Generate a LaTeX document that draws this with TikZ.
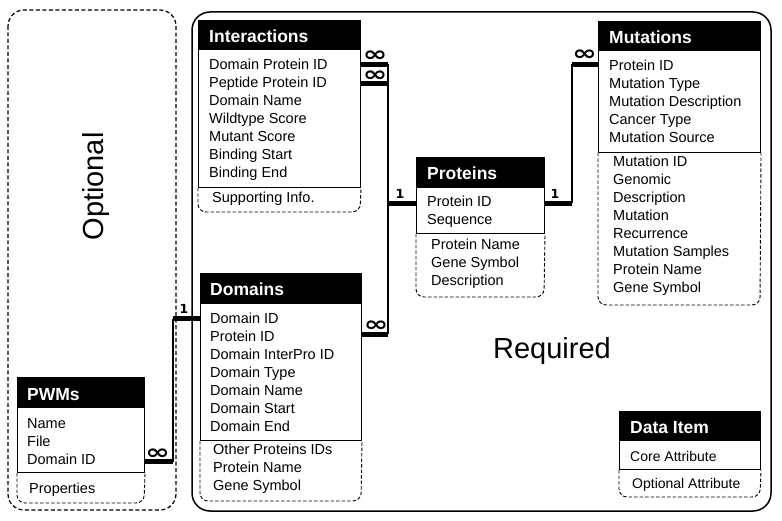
\documentclass[tikz,border=0pt]{standalone}
\usepackage{graphicx}
\usepackage{fontspec}
\setmainfont{Liberation Sans}
\newfontfamily\dejavu{DejaVu Sans}
\newcommand{\infsym}{\scalebox{1.4}[1]{∞}}
\begin{document}
\begin{tikzpicture}[x=1pt,y=-1pt,
  hdr/.style={fill=black, draw=black, line width=1pt, inner sep=0pt, anchor=north west},
  core/.style={draw=black, line width=1pt, inner sep=0pt, anchor=north west},
  optl/.style={draw=black, line width=0.9pt, dash pattern=on 3.5pt off 2pt, rounded corners=8pt},
  ttl/.style={anchor=base west, inner sep=0pt, text=white, font=\fontsize{17.5}{20}\selectfont\bfseries},
  row/.style={anchor=base west, inner sep=0pt, font=\fontsize{14.5}{18}\selectfont},
  lrow/.style={anchor=base west, inner sep=0pt, font=\fontsize{14}{18}\selectfont},
  link/.style={line width=1.5pt},
  barl/.style={line width=5pt},
  inf/.style={inner sep=0pt, text height=3pt, text depth=3pt, yshift=-7.5pt, font=\dejavu\bfseries\fontsize{21}{21}\selectfont},
  one/.style={inner sep=0pt, font=\dejavu\bfseries\fontsize{12.5}{13}\selectfont},
  big/.style={inner sep=0pt, anchor=base, font=\fontsize{29}{30}\selectfont}]
\useasboundingbox (0,0) rectangle (782,521);

% regions
\draw[line width=1.2pt, dash pattern=on 4pt off 2.5pt, rounded corners=16pt] (8,10) rectangle (176,510);
\draw[line width=1.5pt, rounded corners=18pt] (192,12) rectangle (771,511);
\node[big, rotate=90] (optLbl) at (103,186.5) {Optional};
\node[big] (reqLbl) at (552,359) {Required};

% Interactions
\node[hdr, minimum width=162pt, minimum height=29pt] (intH) at (198,20) {};
\node[core, minimum width=162pt, minimum height=138pt] (intC) at (198,49) {};
\draw[optl] (intC.south west) -- (198,212) -- (360,212) -- (intC.south east);
\node[ttl] (intT) at (209,42.5) {Interactions};
\foreach \t [count=\k from 0] in {Domain Protein ID, Peptide Protein ID, Domain Name, Wildtype Score, Mutant Score, Binding Start, Binding End}
  \node[row] (int\k) at (209,{69.5+18*\k}) {\t};
\node[row] (intO) at (212,203) {Supporting Info.};

% Proteins
\node[hdr, minimum width=128pt, minimum height=30pt] (protH) at (416,157) {};
\node[core, minimum width=128pt, minimum height=46pt] (protC) at (416,187) {};
\draw[optl] (protC.south west) -- (416,297) -- (544,297) -- (protC.south east);
\node[ttl] (protT) at (427,180) {Proteins};
\foreach \t [count=\k from 0] in {Protein ID, Sequence}
  \node[row] (prot\k) at (427,{207+18*\k}) {\t};
\foreach \t [count=\k from 0] in {Protein Name, Gene Symbol, Description}
  \node[row] (protO\k) at (431,{250+18*\k}) {\t};

% Mutations
\node[hdr, minimum width=162pt, minimum height=29pt] (mutH) at (598,21) {};
\node[core, minimum width=162pt, minimum height=102pt] (mutC) at (598,50) {};
\draw[optl] (mutC.south west) -- (598,305) -- (760,305) -- (mutC.south east);
\node[ttl] (mutT) at (609,43.5) {Mutations};
\foreach \t [count=\k from 0] in {Protein ID, Mutation Type, Mutation Description, Cancer Type, Mutation Source}
  \node[row] (mut\k) at (609,{71+18*\k}) {\t};
\foreach \t [count=\k from 0] in {Mutation ID, Genomic, Description, Mutation, Recurrence, Mutation Samples, Protein Name, Gene Symbol}
  \node[row] (mutO\k) at (613,{167+18*\k}) {\t};

% Domains
\node[hdr, minimum width=161pt, minimum height=30pt] (domH) at (200,273) {};
\node[core, minimum width=161pt, minimum height=137pt] (domC) at (200,303) {};
\draw[optl] (domC.south west) -- (200,501) -- (361,501) -- (domC.south east);
\node[ttl] (domT) at (210,296) {Domains};
\foreach \t [count=\k from 0] in {Domain ID, Protein ID, Domain InterPro ID, Domain Type, Domain Name, Domain Start, Domain End}
  \node[row] (dom\k) at (210,{323.5+18*\k}) {\t};
\foreach \t [count=\k from 0] in {Other Proteins IDs, Protein Name, Gene Symbol}
  \node[row] (domO\k) at (213,{454+18*\k}) {\t};

% PWMs
\node[hdr, minimum width=127pt, minimum height=30pt] (pwmH) at (17,377) {};
\node[core, minimum width=127pt, minimum height=65pt] (pwmC) at (17,407) {};
\draw[optl] (pwmC.south west) -- (17,503) -- (144,503) -- (pwmC.south east);
\node[ttl] (pwmT) at (27,400) {PWMs};
\foreach \t [count=\k from 0] in {Name, File, Domain ID}
  \node[row] (pwm\k) at (27,{428+18*\k}) {\t};
\node[row] (pwmO) at (29,493) {Properties};

% Legend
\node[hdr, minimum width=141pt, minimum height=29pt] (legH) at (619,411) {};
\node[core, minimum width=141pt, minimum height=29pt] (legC) at (619,440) {};
\draw[optl] (legC.south west) -- (619,497) -- (760,497) -- (legC.south east);
\node[ttl] (legT) at (630,433) {Data Item};
\node[lrow] (legR) at (630,461) {Core Attribute};
\node[lrow] (legO) at (632,488) {Optional Attribute};

% connectors: Interactions / Proteins / Domains
\coordinate (jA) at (388,64.5);
\coordinate (jB) at (388,84);
\coordinate (jP) at (388,203.5);
\coordinate (jD) at (388,334.5);
\draw[link] (jA) -- (jD);
\draw[barl] (intC.east |- jA) -- (jA);
\draw[barl] (intC.east |- jB) -- (jB);
\draw[barl] (jP) -- (protC.west |- jP);
\draw[barl] (domC.east |- jD) -- (jD);
\node[inf] (infA) at (375,54) {\infsym};
\node[inf] (infB) at (375,74) {\infsym};
\node[one] (oneP) at (400,194) {1};
\node[inf] (infD) at (376,324) {\infsym};

% Proteins / Mutations
\coordinate (kP) at (572,203.5);
\coordinate (kM) at (572,64.5);
\draw[barl] (protC.east |- kP) -- (kP);
\draw[link] (kP) -- (kM);
\draw[barl] (kM) -- (mutC.west |- kM);
\node[one] (oneQ) at (555,194) {1};
\node[inf] (infM) at (584.5,53.5) {\infsym};

% Domains / PWMs
\coordinate (mD) at (173,319);
\coordinate (mP) at (173,461.5);
\draw[barl] (domC.west |- mD) -- (mD);
\draw[link] (mD) -- (mP);
\draw[barl] (mP) -- (pwmC.east |- mP);
\node[one] (oneD) at (184,309) {1};
\node[inf] (infP) at (157.5,451.5) {\infsym};
\end{tikzpicture}
\end{document}
